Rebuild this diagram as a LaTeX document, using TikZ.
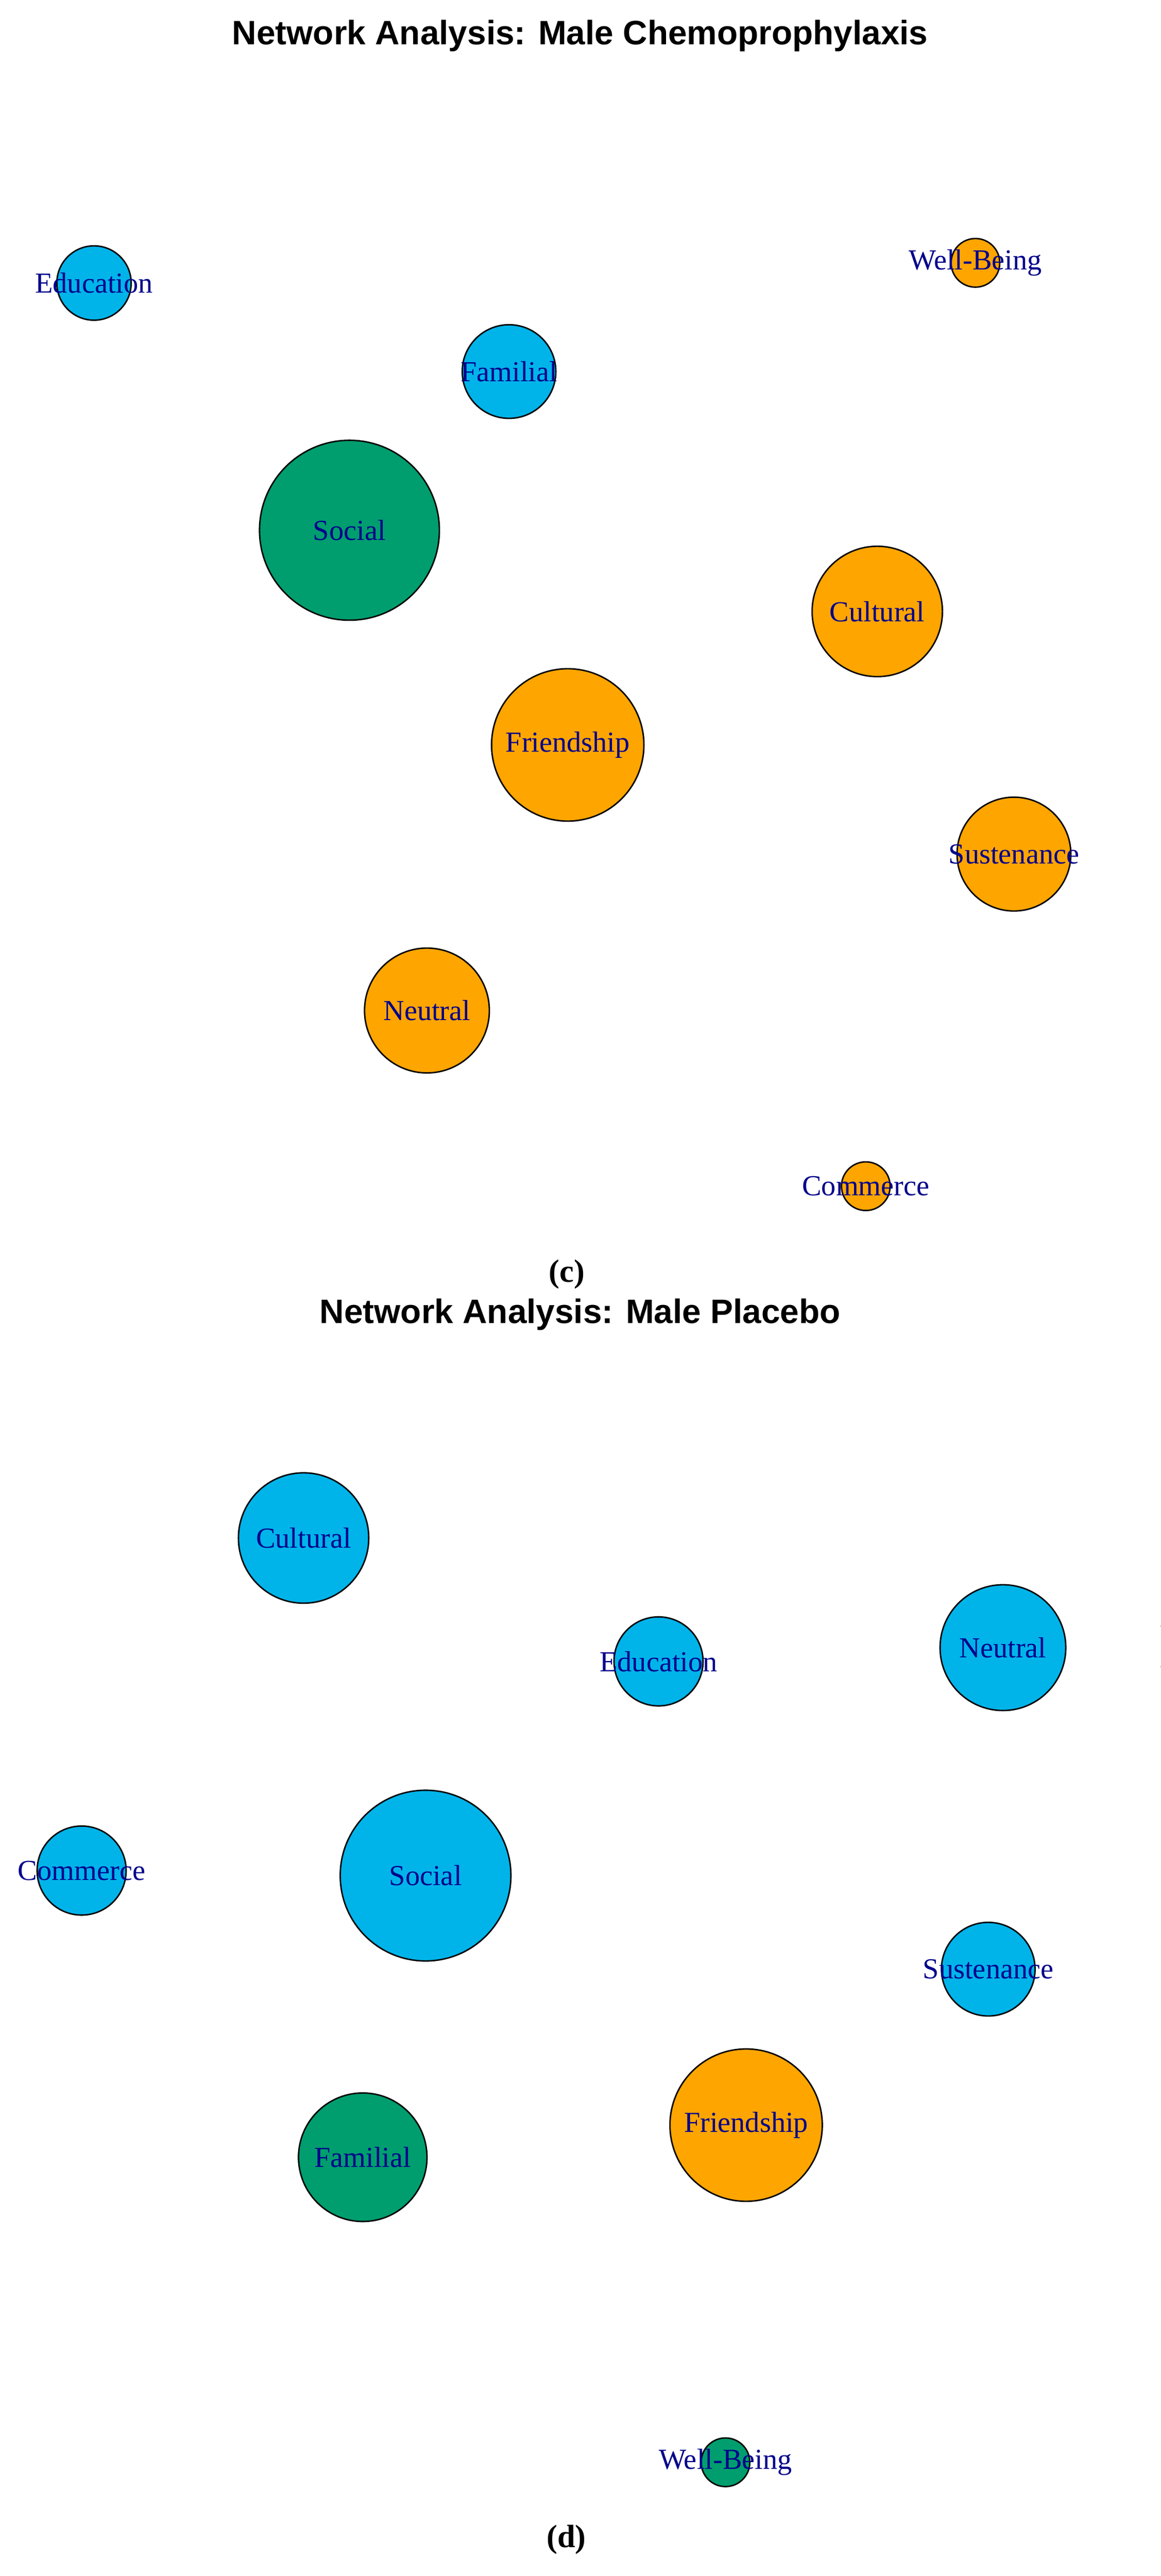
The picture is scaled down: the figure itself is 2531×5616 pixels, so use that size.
\documentclass[tikz,border=0pt]{standalone}
\usepackage{fontspec}
\setmainfont{Liberation Serif}
\newfontfamily\ttlfont{Liberation Sans}
\usetikzlibrary{arrows.meta}
\definecolor{nblue}{HTML}{00B4EA}
\definecolor{ngreen}{HTML}{009E6E}
\definecolor{norange}{HTML}{FFA500}
\definecolor{lblc}{HTML}{00008B}
\definecolor{hgreenf}{HTML}{AAFFBF}
\definecolor{hgreenb}{HTML}{00EE22}
\definecolor{hredf}{HTML}{FFC0C0}
\definecolor{hredb}{HTML}{FF3030}
\definecolor{hbluef}{HTML}{C0C0FF}
\definecolor{hblueb}{HTML}{3030FF}
\pgfdeclarelayer{hull}
\pgfdeclarelayer{edges}
\pgfsetlayers{hull,edges,main}
\tikzset{
  nd/.style={circle,draw=black,line width=0.9pt,inner sep=0pt},
  lbl/.style={font=\fontsize{18}{18}\selectfont,text=lblc,inner sep=0pt},
  bi/.style={arrows={Latex[length=0.24cm,width=0.18cm]-Latex[length=0.24cm,width=0.18cm]}},
  to/.style={arrows={-Latex[length=0.24cm,width=0.18cm]}},
  bigto/.style={arrows={-Latex[length=0.32cm,width=0.26cm]}},
  blk/.style={draw=black,line width=1pt,fill=none},
  gry/.style={draw=black,draw opacity=0.45,line width=1pt},
  fgry/.style={draw=black,draw opacity=0.18,line width=1pt},
  redE/.style={draw=red,line width=1.2pt},
  lred/.style={draw=red,draw opacity=0.45,line width=1pt},
  fred/.style={draw=red,draw opacity=0.14,line width=1pt},
  ttl/.style={font=\ttlfont\bfseries\fontsize{21}{21}\selectfont,anchor=base},
  sublbl/.style={font=\bfseries\fontsize{20}{20}\selectfont},
  hullG/.style={fill=hgreenf,draw=hgreenb,line width=2pt},
  hullR/.style={fill=hredf,draw=hredb,line width=1.6pt},
  hullB/.style={fill=hbluef,draw=hblueb,line width=1.6pt},
}
\begin{document}
\begin{tikzpicture}[x=0.01cm,y=-0.01cm]
\useasboundingbox[fill=white] (0,0) rectangle (2531,5616);
\clip (0,0) rectangle (2531,5616);
% titles
\node[ttl] (t1) at (1265,97) {Network Analysis: Male Chemoprophylaxis};
\node[ttl] (t2) at (1265,2885) {Network Analysis: Male Placebo};
\node[sublbl] (c) at (1236,2778) {(c)};
\node[sublbl] (d) at (1235,5537) {(d)};
% ---------- panel c nodes
\node[nd,fill=nblue,minimum size=1.62cm,label={[lbl]center:Education}] (eA) at (205,617) {};
\node[nd,fill=nblue,minimum size=2.04cm,label={[lbl]center:Familial}] (fA) at (1110,810) {};
\node[nd,fill=ngreen,minimum size=3.92cm,label={[lbl]center:Social}] (sA) at (762,1156) {};
\node[nd,fill=norange,minimum size=1.06cm,label={[lbl]center:Well-Being}] (wA) at (2127,573) {};
\node[nd,fill=norange,minimum size=2.84cm,label={[lbl]center:Cultural}] (cA) at (1913,1333) {};
\node[nd,fill=norange,minimum size=3.32cm,label={[lbl]center:Friendship}] (frA) at (1238,1624) {};
\node[nd,fill=norange,minimum size=2.48cm,label={[lbl]center:Sustenance}] (suA) at (2211,1862) {};
\node[nd,fill=norange,minimum size=2.72cm,label={[lbl]center:Neutral}] (nA) at (931,2203) {};
\node[nd,fill=norange,minimum size=1.06cm,label={[lbl]center:Commerce}] (coA) at (1888,2586) {};
% ---------- panel d nodes
\node[nd,fill=nblue,minimum size=2.84cm,label={[lbl]center:Cultural}] (cuB) at (662,3353) {};
\node[nd,fill=nblue,minimum size=1.94cm,label={[lbl]center:Education}] (edB) at (1436,3622) {};
\node[nd,fill=nblue,minimum size=2.74cm,label={[lbl]center:Neutral}] (neB) at (2187,3592) {};
\node[nd,fill=nblue,minimum size=1.94cm,label={[lbl]center:Commerce}] (coB) at (178,4078) {};
\node[nd,fill=nblue,minimum size=3.72cm,label={[lbl]center:Social}] (soB) at (928,4089) {};
\node[nd,fill=nblue,minimum size=2.04cm,label={[lbl]center:Sustenance}] (suB) at (2155,4293) {};
\node[nd,fill=norange,minimum size=3.32cm,label={[lbl]center:Friendship}] (frB) at (1627,4633) {};
\node[nd,fill=ngreen,minimum size=2.80cm,label={[lbl]center:Familial}] (faB) at (791,4703) {};
\node[nd,fill=ngreen,minimum size=1.06cm,label={[lbl]center:Well-Being}] (wbB) at (1582,5368) {};
% ---------- hulls
\begin{pgfonlayer}{hull}
\draw[hullG] plot[smooth cycle,tension=0.6] coordinates {(84,621) (161,530) (274,496) (484,514) (807,583) (1130,698) (1227,759) (1251,828) (1194,920) (1065,946) (807,905) (484,805) (194,713) (89,667)};
\draw[hullR] plot[smooth cycle,tension=0.6] coordinates {(2130,471) (2227,514) (2276,606) (2340,1066) (2365,1678) (2348,1908) (2227,2214) (2098,2443) (2001,2597) (1937,2665) (1808,2665) (1453,2535) (968,2336) (807,2275) (775,2183) (839,1984) (1049,1678) (1453,1249) (1856,821) (2050,530)};
\draw[hullB] (762,1156) circle[radius=2.10cm];
\draw[hullG] plot[smooth cycle,tension=0.6] coordinates {(589,3216) (807,3186) (1130,3199) (1614,3282) (2098,3381) (2292,3481) (2373,3630) (2365,3912) (2324,4260) (2260,4376) (2147,4439) (1937,4442) (1453,4409) (968,4360) (484,4310) (242,4260) (97,4194) (56,4094) (97,3978) (323,3630) (533,3265)};
\draw[hullB] plot[smooth cycle,tension=0.6] coordinates {(629,4658) (694,4567) (791,4559) (904,4625) (1130,4857) (1453,5155) (1646,5321) (1670,5388) (1614,5446) (1533,5446) (1372,5354) (1049,5122) (726,4874) (629,4757)};
\draw[hullR] (1627,4633) circle[radius=1.80cm];
\end{pgfonlayer}
% ---------- edges
\begin{pgfonlayer}{edges}
% panel c
\draw[gry,bi] (eA) -- (fA);
\draw[fred] (wA) -- (eA);
\draw[lred,to] (sA) -- (eA);
\draw[fred,to] (nA) -- (eA);
\draw[redE,bi] (sA) -- (fA);
\draw[lred,bi] (frA) -- (fA);
\draw[lred,bi] (fA) -- (cA);
\draw[fred,to] (fA) -- (nA);
\draw[redE,bi] (sA) -- (nA);
\draw[redE,bi] (sA) -- (cA);
\draw[redE,bi] (sA) -- (frA);
\draw[redE,bi] (sA) -- (suA);
\draw[fred,to] (wA) -- (frA);
\draw[fred,to] (cA) -- (wA);
\draw[fred,to] (wA) -- (suA);
\draw[blk,bi,draw opacity=0.75] (cA) -- (frA);
\draw[gry,bi] (cA) -- (nA);
\draw[fred,to] (suA) -- (cA);
\draw[blk,bi,draw opacity=0.75] (frA) -- (suA);
\draw[blk,bi] (frA) -- (nA);
\draw[fgry,bi] (nA) -- (suA);
\draw[gry,bi] (nA) -- (coA);
\draw[fgry,bi] (suA) -- (coA);
\draw[draw=black,line width=3pt,bigto] (sA.5) .. controls +(380,-90) and +(370,70) .. (sA.-3);
\draw[gry,draw opacity=0.7,to] (frA.-5) .. controls +(380,110) and +(370,-90) .. (frA.5);
\draw[fred,draw opacity=0.25] (nA.-5) .. controls +(380,110) and +(370,-90) .. (nA.5);
% panel d
\draw[fgry,to] (cuB.-5) .. controls +(380,90) and +(380,-110) .. (cuB.8);
\draw[blk,bi] (cuB) -- (neB);
\draw[gry,bi] (cuB) -- (edB);
\draw[blk,bi,draw opacity=0.7] (edB) -- (neB);
\draw[gry,to] (suB) -- (cuB);
\draw[gry,to] (cuB) -- (coB);
\draw[blk,bi] (cuB) -- (soB);
\draw[redE,bi] (cuB) -- (frB);
\draw[lred,to] (cuB) -- (faB);
\draw[gry,bi] (edB) -- (soB);
\draw[blk,bi] (neB) -- (soB);
\draw[fgry,to] (neB) -- (coB);
\draw[gry,bi] (neB) -- (suB);
\draw[blk,bi,draw opacity=0.8] (coB) -- (soB);
\draw[blk,bi,draw opacity=0.7] (soB) -- (suB);
\draw[redE,bi] (soB) -- (faB);
\draw[redE,bi] (soB) -- (frB);
\draw[lred,to] (frB) -- (coB);
\draw[fred,to] (faB) -- (coB);
\draw[fred,to] (wbB) -- (soB);
\draw[fred,to] (edB) -- (faB);
\draw[fred,to] (frB) -- (edB);
\draw[fred,to] (faB) -- (neB);
\draw[lred,bi] (frB) -- (neB);
\draw[fred,bi] (frB) -- (suB);
\draw[fred,to] (faB) -- (suB);
\draw[fred,to] (wbB) -- (suB);
\draw[redE,bi] (faB) -- (frB);
\draw[fred,to] (wbB) -- (frB);
\draw[gry,to] (faB) -- (wbB);
\draw[draw=black,line width=2pt,bigto] (soB.-8) .. controls +(380,100) and +(380,-90) .. (soB.4);
\draw[gry,to] (faB.-8) .. controls +(380,100) and +(380,-90) .. (faB.4);
\draw[blk,line width=1.3pt,to] (frB.-3) .. controls +(380,100) and +(380,-90) .. (frB.3);
\draw[fgry,draw opacity=0.3,to] (neB.-8) .. controls +(330,120) and +(330,-120) .. (neB.8);
\end{pgfonlayer}
\end{tikzpicture}
\end{document}
